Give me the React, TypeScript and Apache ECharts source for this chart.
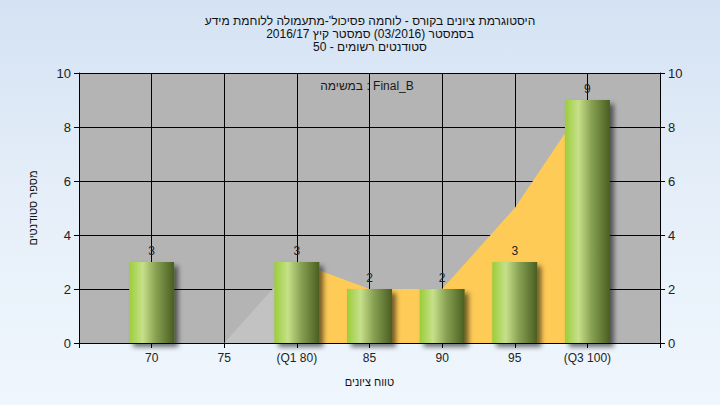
import React, { useEffect, useRef } from "react";
import * as echarts from "echarts";

const categories = ["65", "70", "75", "80", "85", "90", "95", "100", "105"];
const tickLabels = ["", "70", "75", "(Q1 80)", "85", "90", "95", "(Q3 100)", ""];
const studentCounts: (number | null)[] = [null, 3, null, 3, 2, 2, 3, 9, null];
const curveBelowQ1: (number | null)[] = [null, 0, 0, 3, null, null, null, null, null];
const curveFromQ1: (number | null)[] = [null, null, null, 3, 2, 2, 5, 9, null];
const yTicks = [0, 10, 2];

const titleLines = [
  "היסטוגרמת ציונים בקורס - לוחמה פסיכול'-מתעמולה ללוחמת מידע",
  "בסמסטר (03/2016) סמסטר קיץ 2016/17",
  "סטודנטים רשומים - 50",
];
const taskLabel = "במשימה : Final_B";
const xName = "טווח ציונים";
const yName = "מספר סטודנטים";

const FONT = "'Liberation Sans', Arial, 'DejaVu Sans', sans-serif";

export default function App() {
  const ref = useRef<HTMLDivElement>(null);
  useEffect(() => {
    if (!ref.current) return;
    const chart = echarts.init(ref.current, null, { renderer: "svg" });
    const barGradient = new echarts.graphic.LinearGradient(0, 0, 1, 0, [
      { offset: 0, color: "#9bcd3a" },
      { offset: 0.3, color: "#c6e08a" },
      { offset: 0.6, color: "#86a052" },
      { offset: 1, color: "#4a5e20" },
    ]);
    const yAxisBase = {
      type: "value" as const,
      min: yTicks[0],
      max: yTicks[1],
      interval: yTicks[2],
      axisLine: { show: true, lineStyle: { color: "#000", width: 1 } },
      axisTick: { show: true, length: 5, lineStyle: { color: "#000" } },
      axisLabel: { color: "#222", fontSize: 13, fontFamily: FONT, margin: 8 },
    };
    chart.setOption({
      animation: false,
      backgroundColor: "transparent",
      textStyle: { fontFamily: FONT },
      title: {
        text: titleLines.join("\n"),
        left: 365,
        top: 9,
        textAlign: "center",
        textStyle: {
          fontSize: 12,
          lineHeight: 13,
          fontWeight: "normal",
          color: "#111",
          fontFamily: FONT,
        },
      },
      graphic: [
        {
          type: "text",
          x: 367,
          y: 86,
          z: 100,
          style: {
            text: taskLabel,
            fill: "#1a1a1a",
            font: `12px ${FONT}`,
            textAlign: "center",
            textVerticalAlign: "middle",
          },
        },
      ],
      grid: {
        left: 79,
        right: 60,
        top: 73,
        bottom: 62,
        show: true,
        backgroundColor: "#b4b4b4",
        borderWidth: 0,
      },
      xAxis: {
        type: "category",
        data: categories,
        boundaryGap: false,
        name: xName,
        nameLocation: "middle",
        nameGap: 33,
        nameTextStyle: { color: "#111", fontSize: 11, fontFamily: FONT },
        axisLine: { show: true, lineStyle: { color: "#000", width: 1 } },
        axisTick: { show: true, length: 5, interval: 0, lineStyle: { color: "#000" } },
        axisLabel: {
          interval: 0,
          color: "#222",
          fontSize: 12,
          fontFamily: FONT,
          margin: 9,
          formatter: (_v: string, i: number) => tickLabels[i],
        },
        splitLine: { show: true, interval: 0, lineStyle: { color: "#000", width: 1 } },
      },
      yAxis: [
        {
          ...yAxisBase,
          position: "left",
          name: yName,
          nameLocation: "middle",
          nameGap: 41,
          nameTextStyle: { color: "#111", fontSize: 11, fontFamily: FONT },
          splitLine: { show: true, lineStyle: { color: "#000", width: 1 } },
        },
        {
          ...yAxisBase,
          position: "right",
          splitLine: { show: false },
        },
      ],
      series: [
        {
          type: "line",
          data: curveBelowQ1,
          symbol: "none",
          lineStyle: { width: 0 },
          areaStyle: { color: "#c2c2c2", opacity: 1 },
          z: 1,
          silent: true,
        },
        {
          type: "line",
          data: curveFromQ1,
          symbol: "none",
          lineStyle: { width: 0 },
          areaStyle: { color: "#ffcb57", opacity: 1 },
          z: 1,
          silent: true,
        },
        {
          type: "bar",
          data: studentCounts,
          barWidth: 45,
          z: 3,
          itemStyle: {
            color: barGradient,
            shadowColor: "rgba(0,0,0,0.55)",
            shadowBlur: 5,
            shadowOffsetX: 4,
            shadowOffsetY: 4,
          },
          label: {
            show: true,
            position: "top",
            distance: 5,
            color: "#222",
            fontSize: 12,
            fontFamily: FONT,
          },
        },
      ],
    });
    return () => chart.dispose();
  }, []);
  return (
    <div
      ref={ref}
      style={{
        position: "absolute",
        left: 0,
        top: 0,
        width: 720,
        height: 405,
        background: "linear-gradient(180deg, #d4e2f3 0%, #e6eff9 50%, #eff6fd 100%)",
      }}
    />
  );
}
